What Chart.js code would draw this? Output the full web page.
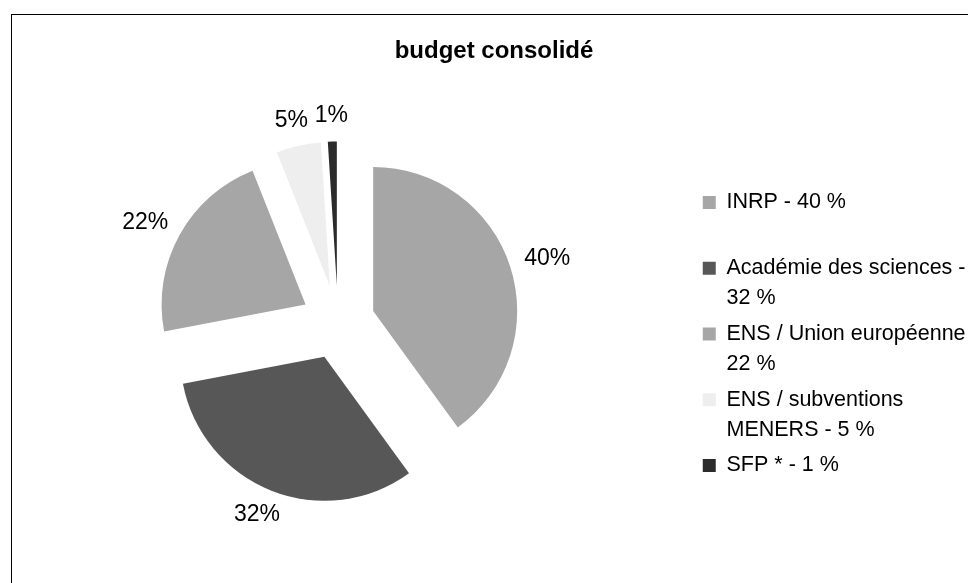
<!DOCTYPE html>
<html>
<head>
<meta charset="utf-8">
<script src="https://cdn.jsdelivr.net/npm/chart.js@4.4.1/dist/chart.umd.min.js"></script>
<style>
  html, body { margin: 0; padding: 0; background: #fff; overflow: hidden; }
  #frame { position: absolute; left: 11px; top: 14px; width: 2000px; height: 2000px;
           border-left: 1px solid #000; border-top: 1px solid #000; }
  #wrap { position: absolute; left: 0; top: 0; width: 968px; height: 583px; }
</style>
</head>
<body>
<div id="frame"></div>
<div id="wrap"><canvas id="c" width="968" height="583"></canvas></div>
<script>
const titleText = 'budget consolidé';
const categories = ['INRP', 'Académie des sciences', 'ENS / Union européenne', 'ENS / subventions MENERS', 'SFP *'];
const values = [40, 32, 22, 5, 1];
const legendText = [
  ['INRP - 40 %', ''],
  ['Académie des sciences -', '32 %'],
  ['ENS / Union européenne -', '22 %'],
  ['ENS / subventions', 'MENERS - 5 %'],
  ['SFP * - 1 %', '']
];
const colors = ['#a6a6a6', '#575757', '#a6a6a6', '#eeeeee', '#2b2b2b'];

const FONT = "'Liberation Sans', Arial, sans-serif";
const EXPLODE = 37;      // distance each slice is pulled out
const LABEL_PAD = 16;    // gap between slice and its label
const PIE_R = 144;
const PAD_LEFT = 20;
const LEGEND_W = 312;
const LEGEND_X = 697;
const LEGEND_Y = 186;

const explodePlugin = {
  id: 'explode',
  beforeDatasetDraw(chart, args) {
    const ctx = chart.ctx;
    args.meta.data.forEach(arc => {
      const p = arc.getProps(['startAngle', 'endAngle']);
      const mid = (p.startAngle + p.endAngle) / 2;
      ctx.save();
      ctx.translate(Math.cos(mid) * EXPLODE, Math.sin(mid) * EXPLODE);
      arc.draw(ctx);
      ctx.restore();
    });
    return false;
  }
};

const labelPlugin = {
  id: 'pctLabels',
  afterDatasetsDraw(chart) {
    const ctx = chart.ctx;
    const meta = chart.getDatasetMeta(0);
    ctx.save();
    ctx.font = '23px ' + FONT;
    ctx.fillStyle = '#000';
    ctx.textAlign = 'center';
    ctx.textBaseline = 'middle';
    meta.data.forEach((arc, i) => {
      const p = arc.getProps(['x', 'y', 'startAngle', 'endAngle', 'outerRadius']);
      const mid = (p.startAngle + p.endAngle) / 2;
      const txt = values[i] + '%';
      const w = ctx.measureText(txt).width;
      const h = 20;
      const d = p.outerRadius + EXPLODE + LABEL_PAD;
      const cx = p.x + Math.cos(mid) * d + Math.cos(mid) * w / 2;
      const cy = p.y + Math.sin(mid) * d + Math.sin(mid) * h / 2;
      ctx.fillText(txt, cx, cy);
    });
    ctx.restore();
  }
};

const legendPlace = {
  id: 'legendPlace',
  beforeLayout(chart) {
    const L = chart.legend;
    if (L && !L._patched) {
      const orig = L.fit;
      L.fit = function() { orig.call(this); this.width = LEGEND_W; };
      L._patched = true;
    }
  },
  afterLayout(chart) {
    const L = chart.legend;
    const w = L.width, h = L.height;
    L.left = LEGEND_X; L.right = LEGEND_X + w;
    L.top = LEGEND_Y; L.bottom = LEGEND_Y + h;
  }
};

new Chart(document.getElementById('c'), {
  type: 'pie',
  data: {
    labels: categories,
    datasets: [{
      data: values,
      backgroundColor: colors,
      borderWidth: 0,
      radius: PIE_R
    }]
  },
  options: {
    responsive: false,
    animation: false,
    layout: { padding: { top: 0, bottom: 4, left: PAD_LEFT, right: 0 } },
    plugins: {
      tooltip: { enabled: false },
      title: {
        display: true,
        text: titleText,
        color: '#000',
        font: { family: FONT, size: 24, weight: 'bold', lineHeight: 1.2 },
        padding: { top: 37, bottom: 0 }
      },
      legend: {
        position: 'right',
        align: 'start',
        labels: {
          color: '#000',
          font: { family: FONT, size: 21.5, lineHeight: '30px' },
          boxWidth: 13,
          boxHeight: 13,
          padding: 5.75,
          generateLabels(chart) {
            const base = Chart.overrides.pie.plugins.legend.labels.generateLabels(chart);
            return base.map((it, i) => Object.assign(it, { text: legendText[i], lineWidth: 0 }));
          }
        }
      }
    }
  },
  plugins: [explodePlugin, labelPlugin, legendPlace]
});
</script>
</body>
</html>
